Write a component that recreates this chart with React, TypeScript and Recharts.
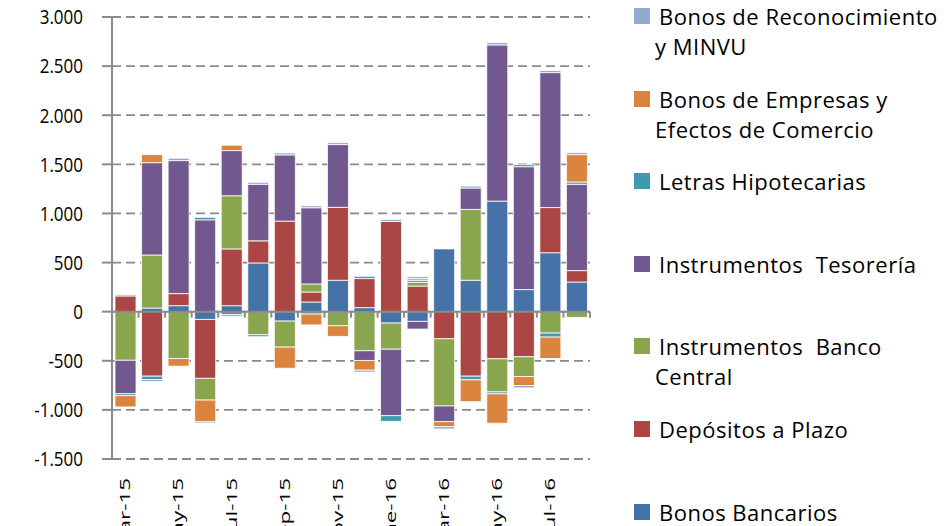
import React from "react";
import { BarChart, Bar, XAxis, YAxis, CartesianGrid, ReferenceLine, Legend } from "recharts";

const months = [
  "Mar-15", "Abr-15", "May-15", "Jun-15", "Jul-15", "Ago-15", "Sep-15", "Oct-15", "Nov-15",
  "Dic-15", "Ene-16", "Feb-16", "Mar-16", "Abr-16", "May-16", "Jun-16", "Jul-16", "Ago-16",
];

const bonosBancarios = [0, 37, 61, -79, 61, 496, -96, 98, 320, 41, -116, -99, 639, 320, 1126, 225, 600, 302];
const depositosPlazo = [160, -657, 123, -600, 578, 225, 922, 102, 742, 296, 919, 261, -276, -657, -480, -459, 460, 116];
const bancoCentral = [-495, 540, -477, -221, 541, -235, -265, 82, -143, -398, -266, 38, -684, 721, -337, -202, -218, -58];
const tesoreria = [-340, 940, 1354, 935, 460, 576, 674, 776, 639, -99, -677, -78, -160, 218, 1590, 1251, 1374, 879];
const letrasHipotecarias = [-20, -34, 0, 25, -30, -20, 0, -25, 0, 23, -58, 21, 0, -37, -20, 21, -41, 23];
const bonosEmpresas = [-115, 82, -78, -221, 55, 0, -215, -110, -109, -99, 0, 17, -51, -222, -299, -91, -218, 279];
const bonosReconocimiento = [15, -20, 24, -13, -20, 20, 20, 20, 20, -20, 20, 20, -24, 20, 23, -24, 21, 20];

const yTicks = [-1500, -1000, -500, 0, 500, 1000, 1500, 2000, 2500, 3000];

// first series sits at the bottom of the stack, legend lists them reversed
const seriesList = [
  { key: "bancarios", name: "Bonos Bancarios", color: "#4572A7", values: bonosBancarios, lines: ["Bonos Bancarios"] },
  { key: "plazo", name: "Depósitos a Plazo", color: "#AA4643", values: depositosPlazo, lines: ["Depósitos a Plazo"] },
  { key: "central", name: "Instrumentos  Banco Central", color: "#89A54E", values: bancoCentral, lines: ["Instrumentos  Banco", "Central"] },
  { key: "tesoreria", name: "Instrumentos  Tesorería", color: "#71588F", values: tesoreria, lines: ["Instrumentos  Tesorería"] },
  { key: "letras", name: "Letras Hipotecarias", color: "#4198AF", values: letrasHipotecarias, lines: ["Letras Hipotecarias"] },
  { key: "empresas", name: "Bonos de Empresas y Efectos de Comercio", color: "#DB843D", values: bonosEmpresas, lines: ["Bonos de Empresas y", "Efectos de Comercio"] },
  { key: "reconocimiento", name: "Bonos de Reconocimiento y MINVU", color: "#93A9CF", values: bonosReconocimiento, lines: ["Bonos de Reconocimiento", "y MINVU"] },
];

const data = months.map((m, i) => {
  const row: Record<string, string | number> = { month: m };
  seriesList.forEach((s) => {
    row[s.key] = s.values[i];
  });
  return row;
});

const font = "'Open Sans', 'Noto Sans', sans-serif";
const gray = "#8a8a8a";

const fmt = (v: number) => {
  const s = Math.abs(v).toString().replace(/\B(?=(\d{3})+(?!\d))/g, ".");
  return v < 0 ? "-" + s : s;
};

// the source text is tall and narrow, so stretch it a little along its height
function MonthTick(props: any) {
  const { x, y, payload } = props;
  const ty = y + 19;
  return (
    <text
      x={0}
      y={0}
      dy="0.36em"
      transform={`translate(${x} ${ty}) rotate(-90) scale(1.6 1)`}
      textAnchor="end"
      fontSize={14}
      fontFamily={font}
      fill="#000"
    >
      {payload.value}
    </text>
  );
}

function ValueTick(props: any) {
  const { x, y, payload } = props;
  return (
    <text
      x={0}
      y={0}
      dy="0.36em"
      transform={`translate(${x} ${y}) scale(1 1.2)`}
      textAnchor="end"
      fontSize={17}
      fontFamily={font}
      fill="#000"
    >
      {fmt(payload.value)}
    </text>
  );
}

// zero line acts as the category axis, with small ticks between months
function ZeroAxis(props: any) {
  const { x1, y1, x2, y2 } = props;
  if (x1 == null || y1 == null) return null;
  const step = (x2 - x1) / months.length;
  return (
    <g>
      <line x1={x1} y1={y1} x2={x2} y2={y2} stroke={gray} strokeWidth={2} />
      {months.map((_, i) => (
        <line
          key={i}
          x1={x1 + step * (i + 1)}
          x2={x1 + step * (i + 1)}
          y1={y1}
          y2={y1 + 6}
          stroke={gray}
          strokeWidth={2}
        />
      ))}
    </g>
  );
}

function SideLegend() {
  const items = [...seriesList].reverse();
  return (
    <div style={{ position: "relative", width: 313, height: 518, fontFamily: font, color: "#000" }}>
      {items.map((s, i) => (
        <div key={s.key} style={{ position: "absolute", top: i * 82.6, left: 0, display: "flex", alignItems: "flex-start" }}>
          <div style={{ width: 16, height: 16, background: s.color, flex: "none" }} />
          <div style={{ marginLeft: 9, marginTop: -7, fontSize: 22, lineHeight: "30px", letterSpacing: 0.5, whiteSpace: "pre" }}>
            {s.lines.map((l, j) => (
              <div key={j} style={{ marginLeft: j ? -4 : 0 }}>
                {l}
              </div>
            ))}
          </div>
        </div>
      ))}
    </div>
  );
}

export default function App() {
  return (
    <div style={{ position: "absolute", left: 0, top: 0, width: 947, height: 526, background: "#fff" }}>
      <BarChart
        width={947}
        height={526}
        data={data}
        stackOffset="sign"
        margin={{ top: 17, right: 357, bottom: 0, left: 0 }}
      >
        <CartesianGrid vertical={false} stroke={gray} strokeWidth={1.8} strokeDasharray="9 5" />
        <XAxis
          dataKey="month"
          interval={1}
          tick={<MonthTick />}
          tickLine={false}
          axisLine={false}
          tickSize={0}
          tickMargin={0}
          height={67}
        />
        <YAxis
          domain={[-1500, 3000]}
          ticks={yTicks}
          interval={0}
          allowDataOverflow
          width={112}
          tickSize={10}
          tickMargin={19}
          axisLine={{ stroke: gray, strokeWidth: 2 }}
          tickLine={{ stroke: gray, strokeWidth: 2 }}
          tick={<ValueTick />}
        />
        {seriesList.map((s) => (
          <Bar
            key={s.key}
            dataKey={s.key}
            name={s.name}
            stackId="a"
            fill={s.color}
            stroke="#ffffff"
            strokeWidth={0.8}
            barSize={21}
            isAnimationActive={false}
          />
        ))}
        <ReferenceLine y={0} shape={(p: any) => <ZeroAxis {...p} />} />
        <Legend
          layout="horizontal"
          verticalAlign="middle"
          align="center"
          content={() => <SideLegend />}
          wrapperStyle={{ left: 634, top: 8, width: 313, height: 518 }}
        />
      </BarChart>
    </div>
  );
}
